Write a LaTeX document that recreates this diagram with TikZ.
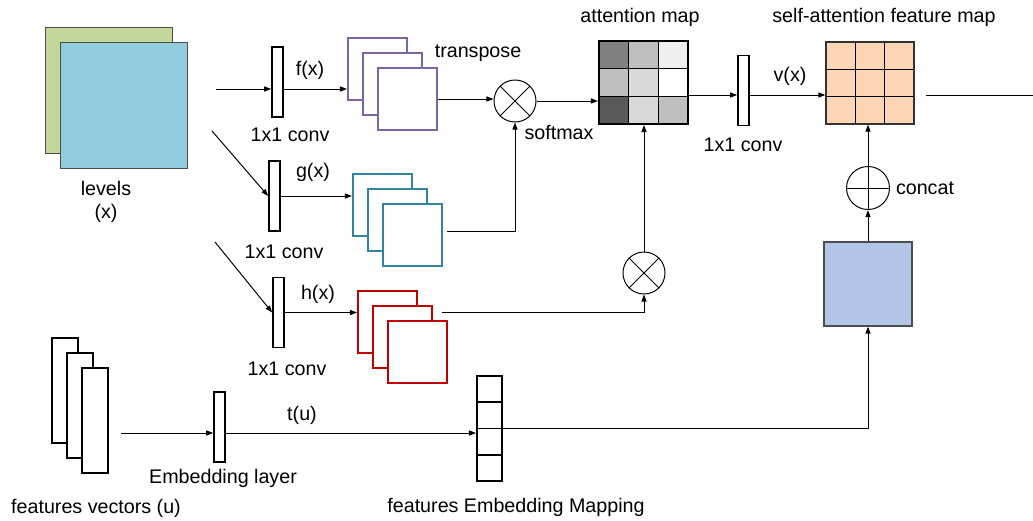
\documentclass[tikz,border=0pt]{standalone}
\usepackage{fontspec}
\setmainfont{Liberation Sans}
\usetikzlibrary{arrows.meta}
\definecolor{lvgreen}{HTML}{C4D79B}
\definecolor{lvblue}{HTML}{93CDDD}
\definecolor{fpurple}{HTML}{8064A2}
\definecolor{gteal}{HTML}{31859C}
\definecolor{hred}{HTML}{C00000}
\definecolor{sapeach}{HTML}{FCD5B4}
\definecolor{catblue}{HTML}{B4C6E7}
\tikzset{every node/.append style={font=\fontsize{14}{16}\selectfont}}
\tikzset{
	conv/.style={draw,line width=1.2pt,fill=white,minimum width=0.275cm,minimum height=1.75cm,inner sep=0pt},
	fmap/.style={draw=#1,line width=1.4pt,fill=white,minimum width=1.475cm,minimum height=1.55cm,inner sep=0pt},
	vec/.style={draw,line width=1.4pt,fill=white,minimum width=0.65cm,minimum height=2.625cm,inner sep=0pt},
	op/.style={draw,circle,line width=0.7pt,minimum size=1.05cm,inner sep=0pt},
	link/.style={line width=0.7pt},
	arr/.style={link,-{Triangle[length=5pt,width=3.6pt]}},
}

\begin{document}
\begin{tikzpicture}[x=0.025cm,y=-0.025cm]
	\useasboundingbox (0,0) rectangle (1033,520);
	% input levels
	\node[draw=black!70,fill=lvgreen,minimum width=3.175cm,minimum height=3.15cm,inner sep=0pt] (lv1) at (108.5,90) {};
	\node[draw=black!70,fill=lvblue,minimum width=3.175cm,minimum height=3.15cm,inner sep=0pt] (lv2) at (123.5,105) {};
	\node (lvtxt) at (106,188) {levels};
	\node (lvx) at (106,213) {(x)};
	% 1x1 convolutions
	\node[conv] (convf) at (277.5,82) {};
	\node[conv] (convg) at (274.5,196) {};
	\node[conv] (convh) at (278.5,312.5) {};
	\node[conv] (convv) at (743.5,90.5) {};
	\node (cftxt) at (290,135) {1x1 conv};
	\node (cgtxt) at (284,252) {1x1 conv};
	\node (chtxt) at (287,369) {1x1 conv};
	\node (cvtxt) at (743,145) {1x1 conv};
	% feature maps
	\node[fmap=fpurple] (f1) at (377.5,69) {};
	\node[fmap=fpurple] (f2) at (392.5,84) {};
	\node[fmap=fpurple] (f3) at (407.5,99) {};
	\node[fmap=gteal] (g1) at (382.5,205) {};
	\node[fmap=gteal] (g2) at (397.5,220) {};
	\node[fmap=gteal] (g3) at (412.5,235) {};
	\node[fmap=hred] (h1) at (387.5,322) {};
	\node[fmap=hred] (h2) at (402.5,337) {};
	\node[fmap=hred] (h3) at (417.5,352) {};
	\node (ftxt) at (310,70) {f(x)};
	\node (gtxt) at (313,172) {g(x)};
	\node (htxt) at (318,294) {h(x)};
	\node (trtxt) at (478,53) {transpose};
	% operators
	\node[op] (mulf) at (515,101) {};
	\node[op] (mulh) at (644,273) {};
	\node[op,minimum size=1.075cm] (cat) at (868,188) {};
	\draw[link] (mulf.north west) -- (mulf.south east) (mulf.north east) -- (mulf.south west);
	\draw[link] (mulh.north west) -- (mulh.south east) (mulh.north east) -- (mulh.south west);
	\draw[link] (cat.north) -- (cat.south) (cat.west) -- (cat.east);
	\node (smtxt) at (559,132) {softmax};
	\node (cattxt) at (925,188) {concat};
	% attention map
	\foreach \g [count=\k from 0] in {50,25,6,25,15,0,65,15,25}
		\fill[black!\g] ({599+mod(\k,3)*89/3},{41+div(\k,3)*83/3}) rectangle ++(89/3,83/3);
	\foreach \t in {1,2} {
		\draw[link] ({599+\t*89/3},41) -- ++(0,83);
		\draw[link] (599,{41+\t*83/3}) -- ++(89,0);
	}
	\node[draw,line width=1.4pt,minimum width=2.225cm,minimum height=2.075cm,inner sep=0pt] (att) at (643.5,82.5) {};
	\node (atttxt) at (640,17) {attention map};
	% self-attention feature map
	\node[draw=black!80,fill=sapeach,line width=0.9pt,minimum width=2.2cm,minimum height=2.05cm,inner sep=0pt] (sa) at (870,83) {};
	\foreach \t in {1,2} {
		\draw[link] ({826+\t*88/3},42) -- ++(0,82);
		\draw[link] (826,{42+\t*82/3}) -- ++(88,0);
	}
	\node (satxt) at (884,17) {self-attention feature map};
	\node (vtxt) at (790,76) {v(x)};
	\node[draw=black!70,fill=catblue,line width=0.9pt,minimum width=2.2cm,minimum height=2.1cm,inner sep=0pt] (catin) at (868,284) {};
	% feature vectors and embedding
	\node[vec] (u1) at (65,390.5) {};
	\node[vec] (u2) at (80,405.5) {};
	\node[vec] (u3) at (95,420.5) {};
	\node (utxt) at (96,508) {features vectors (u)};
	\node[conv] (embed) at (219.5,427) {};
	\node (embtxt) at (223,478) {Embedding layer};
	\node (ttxt) at (302,415) {t(u)};
	\node[draw,line width=1.4pt,minimum width=0.625cm,minimum height=2.625cm,inner sep=0pt] (emap) at (489.5,428.5) {};
	\foreach \t in {1,2,3}
		\draw[line width=1.4pt] (477,{376+\t*105/4}) -- ++(25,0);
	\node (emaptxt) at (516,507) {features Embedding Mapping};
	% connectors
	\coordinate (inf) at (216,89);
	\coordinate (ing) at (212,131);
	\coordinate (inh) at (215,242);
	\coordinate (inu) at (121,433);
	\coordinate (gout) at (447,231);
	\coordinate (hout) at (442,312);
	\coordinate (vrow) at (0,95);
	\coordinate (outa) at (926,95);
	\coordinate (outb) at (1033,95);
	\draw[arr] (inf) -- (inf -| convf.west);
	\draw[arr] (convf.east |- inf) -- (f1.west |- inf);
	\draw[arr] (ing) -- (convg.west);
	\draw[arr] (convg.east) -- (convg.east -| g1.west);
	\draw[arr] (inh) -- (convh.west);
	\draw[arr] (convh.east) -- (convh.east -| h1.west);
	\draw[arr] (f3.east) -- (f3.east -| mulf.west);
	\draw[arr] (mulf.east) -- (mulf.east -| att.west);
	\draw[arr] (gout) -| (mulf.south);
	\draw[arr] (hout) -| (mulh.south);
	\draw[arr] (mulh.north) -- (mulh.north |- att.south);
	\draw[arr] (att.east |- vrow) -- (convv.west |- vrow);
	\draw[arr] (convv.east |- vrow) -- (sa.west |- vrow);
	\draw[link] (outa) -- (outb);
	\draw[arr] (catin.north) -- (cat.south);
	\draw[arr] (cat.north) -- (cat.north |- sa.south);
	\draw[arr] (inu) -- (inu -| embed.west);
	\draw[arr] (embed.east |- inu) -- (emap.west |- inu);
	\draw[arr] (emap.east) -| (catin.south);
\end{tikzpicture}
\end{document}
